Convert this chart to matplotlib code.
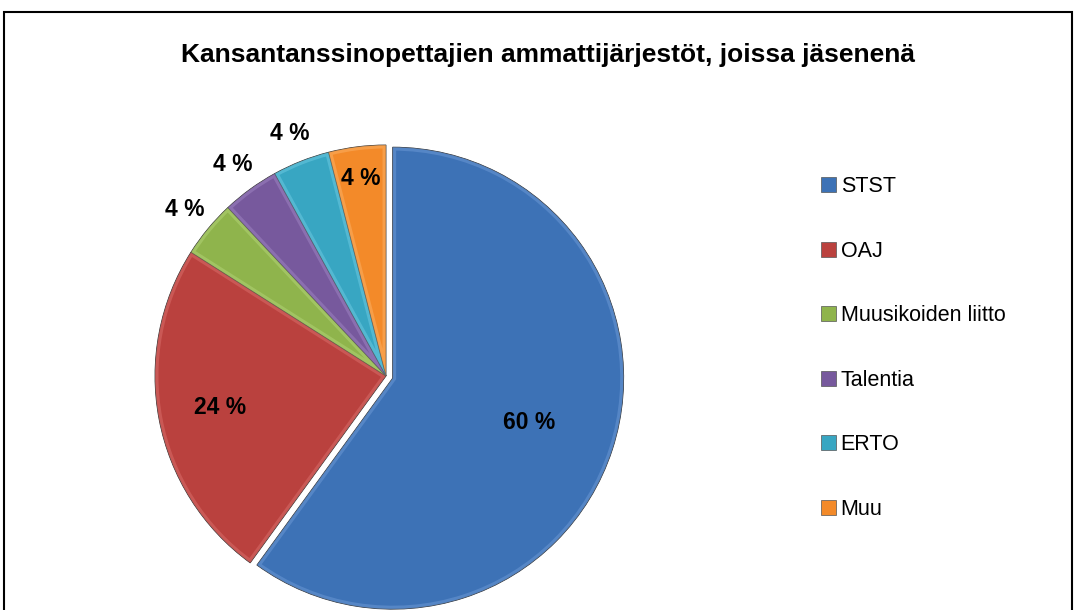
#!/usr/bin/env python3
"""Kansantanssinopettajien ammattijärjestöt - pie chart"""

import matplotlib
matplotlib.use("Agg")
import matplotlib.pyplot as plt
from matplotlib.patches import Patch, Rectangle, Wedge
import numpy as np

labels = ["STST", "OAJ", "Muusikoiden liitto", "Talentia", "ERTO", "Muu"]
values = [60, 24, 4, 4, 4, 4]
colors = ["#3D72B6", "#BA413E", "#8FB44C", "#77599D", "#38A6C2", "#F38A29"]
rims = ["#6E9AD6", "#DA706C", "#B4D478", "#A085C4", "#6FCBE2", "#FBB268"]
label_dist = [0.62, 0.73, 1.13, 1.13, 1.13, 0.86]

NARROW = ["Liberation Sans Narrow", "Liberation Sans", "DejaVu Sans"]


def main() -> None:
    fig = plt.figure(figsize=(10.76, 6.10), dpi=100)
    ax = fig.add_axes([0, 0, 1, 1])

    # pixel-like coordinates: 1 unit = 1 px, y upward
    cx, cy, r = 386, 610 - 376, 231
    # explode is in data units here (px), not a fraction of the radius
    explode = [7, 0, 0, 0, 0, 0]
    wedges, _ = ax.pie(values, colors=colors, startangle=90, counterclock=False,
                       radius=r, center=(cx, cy), explode=explode,
                       wedgeprops=dict(edgecolor="#2F2F2F", linewidth=0.6))

    # bevel-like light rim inside each wedge
    for w, rim in zip(wedges, rims):
        inner = Wedge(w.center, w.r, w.theta1, w.theta2, facecolor="none",
                      edgecolor=rim, linewidth=5, alpha=0.5)
        ax.add_patch(inner)
        inner.set_clip_path(w)

    for w, v, d in zip(wedges, values, label_dist):
        ang = np.deg2rad((w.theta1 + w.theta2) / 2)
        x = w.center[0] + d * r * np.cos(ang)
        y = w.center[1] + d * r * np.sin(ang)
        ax.text(x, y, f"{v} %", ha="center", va="center", fontsize=16.5,
                fontweight="bold", family=NARROW, color="black")

    ax.set_xlim(0, 1076)
    ax.set_ylim(0, 610)
    ax.set_aspect("equal")
    ax.axis("off")

    fig.text(548, 610 - 55, "Kansantanssinopettajien ammattijärjestöt, joissa jäsenenä",
             transform=None, ha="center", va="center", fontsize=19,
             fontweight="bold", family=NARROW)

    handles = [Patch(facecolor=c, edgecolor="#555555", linewidth=0.5) for c in colors]
    fig.legend(handles, labels, loc="upper left", bbox_to_anchor=(802 / 1076, 1 - 157 / 610),
               frameon=False, handlelength=0.7, handleheight=0.7, handletextpad=0.2,
               labelspacing=2.02, prop=dict(family=NARROW, size=15.5))

    fig.patches.append(Rectangle((4 / 1076, -0.05), 1068 / 1076, 1.05 - 12 / 610,
                                 transform=fig.transFigure, fill=False,
                                 edgecolor="black", linewidth=1.5))

    fig.savefig("out.png", dpi=100)


if __name__ == "__main__":
    main()
